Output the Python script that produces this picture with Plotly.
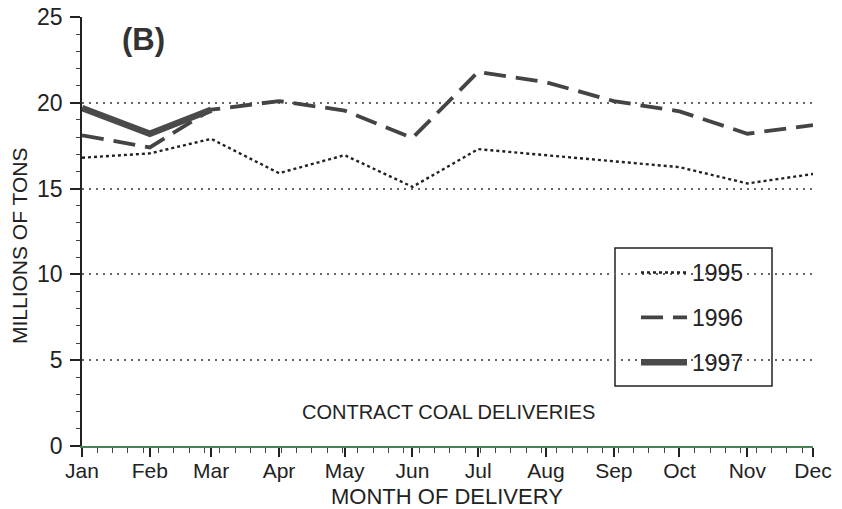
import plotly.graph_objects as go

# Month of delivery, placed by day of year so spacing follows month length
months = ["Jan", "Feb", "Mar", "Apr", "May", "Jun",
          "Jul", "Aug", "Sep", "Oct", "Nov", "Dec"]
month_day = [0, 31, 59, 90, 120, 151, 181, 212, 243, 273, 304, 334]

# Contract coal deliveries, millions of tons
deliv_1995 = [16.8, 17.05, 17.9, 15.9, 16.95, 15.1, 17.3, 16.95, 16.6, 16.25, 15.3, 15.85]
deliv_1996 = [18.1, 17.4, 19.6, 20.1, 19.55, 17.95, 21.8, 21.2, 20.1, 19.5, 18.2, 18.7]
deliv_1997 = [19.7, 18.2, 19.6]

y_ticks = [0, 5, 10, 15, 20, 25]

FONT = "Liberation Sans, Arial, sans-serif"

# plot area in pixels
L, R, T, B = 82, 813, 17, 446
W, H = R - L, B - T


def px_x(x):
    return (x - L) / W


def px_y(y):
    return (B - y) / H


fig = go.Figure()
fig.add_trace(go.Scatter(
    x=month_day, y=deliv_1995, mode="lines", name="1995", legendgroup="a",
    line=dict(color="#222", width=2.4, dash="3px,3px"),
))
fig.add_trace(go.Scatter(
    x=month_day, y=deliv_1996, mode="lines", name="1996", legendgroup="b",
    line=dict(color="#444", width=3.8, dash="22px,10px"),
))
fig.add_trace(go.Scatter(
    x=month_day[:len(deliv_1997)], y=deliv_1997, mode="lines", name="1997",
    legendgroup="c", line=dict(color="#4a4a4a", width=6.5),
))

# legend frame
fig.add_shape(type="rect", xref="paper", yref="paper",
              x0=px_x(615), x1=px_x(772), y0=px_y(386), y1=px_y(248),
              line=dict(color="#222", width=1.5), fillcolor="white",
              layer="below")

fig.add_annotation(xref="paper", yref="paper", x=px_x(143), y=px_y(39),
                   xanchor="center", yanchor="middle",
                   text="<b>(B)</b>", showarrow=False,
                   font=dict(size=31, color="#333", family=FONT))
fig.add_annotation(xref="paper", yref="paper", x=px_x(448), y=px_y(412),
                   xanchor="center", yanchor="middle",
                   text="CONTRACT COAL DELIVERIES", showarrow=False,
                   font=dict(size=20, color="#222", family=FONT))
fig.add_annotation(xref="paper", yref="paper", x=px_x(447), y=px_y(496),
                   xanchor="center", yanchor="middle",
                   text="MONTH OF DELIVERY", showarrow=False,
                   font=dict(size=22, color="#222", family=FONT))
fig.add_annotation(xref="paper", yref="paper", x=px_x(19), y=px_y(246),
                   xanchor="center", yanchor="middle",
                   text="MILLIONS OF TONS", textangle=-90, showarrow=False,
                   font=dict(size=21, color="#222", family=FONT))

fig.update_layout(
    template="none",
    width=842, height=509,
    margin=dict(l=L, r=842 - R, t=T, b=509 - B),
    paper_bgcolor="white", plot_bgcolor="white",
    font=dict(family=FONT, size=22, color="#222"),
    showlegend=True,
    legend=dict(
        x=px_x(636), y=px_y(251), xanchor="left", yanchor="top",
        bgcolor="rgba(0,0,0,0)", borderwidth=0, tracegroupgap=12,
        itemwidth=46, font=dict(size=23, family=FONT, color="#222"),
    ),
    xaxis=dict(
        range=[0, 334], tickmode="array", tickvals=month_day, ticktext=months,
        showgrid=False, zeroline=False,
        showline=True, linecolor="#3c8a52", linewidth=1.5,
        ticks="outside", ticklen=9, tickcolor="#222", tickwidth=1.5,
        ticklabelstandoff=-4,
        minor=dict(tickmode="linear", tick0=0, dtick=7, ticks="outside",
                   ticklen=5, tickcolor="#444", tickwidth=1, showgrid=False),
        tickfont=dict(size=21),
    ),
    yaxis=dict(
        range=[0, 25], tickmode="array", tickvals=y_ticks,
        showgrid=True, gridcolor="#666", griddash="2px,5px", gridwidth=1.5,
        zeroline=False, showline=True, linecolor="#222", linewidth=1.5,
        ticks="outside", ticklen=10, tickcolor="#222", tickwidth=1.5,
        ticklabelstandoff=3,
        minor=dict(tickmode="linear", tick0=0, dtick=1, ticks="outside",
                   ticklen=4, tickcolor="#444", tickwidth=1, showgrid=False),
        tickfont=dict(size=23),
    ),
)

fig.write_html("out.html")
